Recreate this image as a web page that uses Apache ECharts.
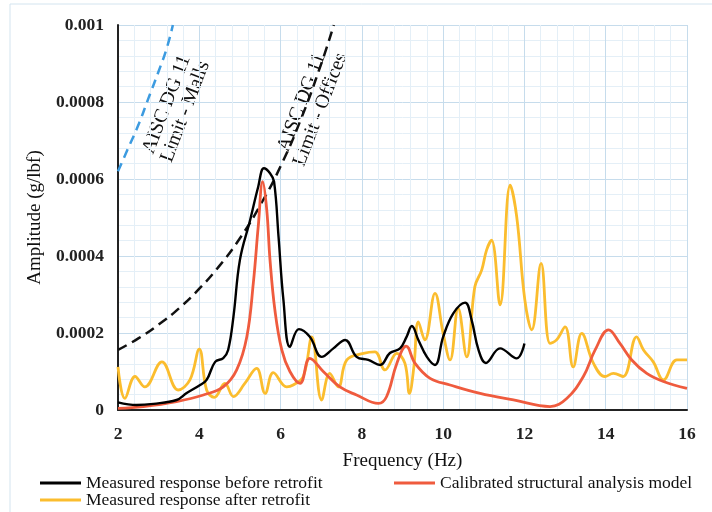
<!DOCTYPE html>
<html>
	<head>
		<meta charset="UTF-8" />
		<title>Frequency response</title>
		<script src="https://cdn.jsdelivr.net/npm/echarts@6/dist/echarts.min.js"></script>
		<style>
			html, body { margin: 0; padding: 0; background: #fff; }
			#pic { width: 712px; height: 512px; }
		</style>
	</head>
	<body>
		<div id="pic"></div>
		<script>
			// values
			var xTicks = [2, 4, 6, 8, 10, 12, 14, 16];
			var yTicks = ['0', '0.0002', '0.0004', '0.0006', '0.0008', '0.001'];

			var freqBefore = [2.0, 2.46, 2.87, 3.44, 3.69, 4.02, 4.18, 4.39, 4.59, 4.71, 4.84, 5.0, 5.25, 5.45, 5.59, 5.74, 5.84, 5.95, 6.07, 6.23, 6.45, 6.72, 7.01, 7.30, 7.59, 7.87, 8.16, 8.45, 8.69, 8.94, 9.10, 9.23, 9.39, 9.60, 9.80, 10.0, 10.25, 10.54, 10.70, 10.87, 11.05, 11.40, 11.81, 12.0];
			var ampBefore = [0.00002, 0.000013, 0.000016, 0.000026, 0.000044, 0.000065, 0.000078, 0.000125, 0.000135, 0.000156, 0.000242, 0.00039, 0.000493, 0.00058, 0.000628, 0.000615, 0.000593, 0.00045, 0.000286, 0.000164, 0.00021, 0.00019, 0.000138, 0.00016, 0.000182, 0.000138, 0.00013, 0.000117, 0.000148, 0.00016, 0.00019, 0.000218, 0.000182, 0.000138, 0.000117, 0.00019, 0.000251, 0.000279, 0.000234, 0.000156, 0.000122, 0.00016, 0.000134, 0.000173];

			var freqModel = [2.0, 2.62, 3.44, 4.10, 4.59, 4.92, 5.17, 5.33, 5.45, 5.56, 5.66, 5.74, 5.86, 6.03, 6.23, 6.48, 6.72, 7.05, 7.46, 7.87, 8.41, 8.61, 8.86, 9.09, 9.31, 9.68, 10.17, 10.91, 11.73, 12.63, 13.04, 13.45, 13.74, 14.07, 14.35, 14.64, 15.01, 15.42, 16.0];
			var ampModel = [0.000004, 0.000009, 0.000022, 0.000039, 0.00006, 0.000104, 0.00019, 0.00033, 0.000476, 0.000593, 0.00052, 0.00039, 0.00026, 0.000156, 0.0001, 0.000069, 0.000134, 0.0001, 0.00006, 0.000039, 0.000017, 0.000035, 0.000121, 0.000166, 0.000121, 0.000082, 0.000065, 0.000043, 0.000026, 0.000009, 0.00003, 0.000087, 0.000156, 0.000208, 0.000173, 0.00013, 0.000095, 0.000074, 0.000056];

			var freqAfter = [2.0, 2.17, 2.42, 2.66, 3.08, 3.48, 3.77, 4.0, 4.18, 4.37, 4.63, 4.84, 5.12, 5.41, 5.62, 5.82, 6.15, 6.31, 6.56, 6.77, 7.01, 7.21, 7.42, 7.63, 8.04, 8.32, 8.57, 8.86, 9.06, 9.17, 9.28, 9.39, 9.55, 9.80, 10.0, 10.17, 10.37, 10.58, 10.78, 10.95, 11.07, 11.19, 11.40, 11.65, 11.81, 12.01, 12.18, 12.41, 12.63, 12.79, 13.0, 13.20, 13.41, 13.70, 13.98, 14.19, 14.43, 14.76, 14.93, 15.17, 15.42, 15.75, 16.0];
			var ampAfter = [0.000112, 0.00003, 0.000087, 0.00006, 0.000125, 0.000052, 0.000078, 0.000158, 0.000052, 0.000033, 0.000069, 0.000035, 0.000069, 0.000108, 0.000043, 0.000097, 0.00006, 0.000065, 0.000087, 0.00019, 0.000026, 0.000095, 0.00006, 0.00013, 0.000147, 0.000151, 0.000104, 0.000147, 0.000121, 0.000043, 0.000112, 0.000229, 0.000182, 0.000303, 0.000199, 0.00013, 0.000264, 0.000138, 0.00032, 0.000364, 0.000416, 0.000441, 0.000273, 0.000584, 0.000502, 0.000286, 0.000208, 0.000381, 0.000173, 0.000182, 0.000216, 0.000112, 0.000199, 0.000121, 0.000087, 0.000095, 0.000087, 0.00019, 0.000156, 0.000125, 0.000078, 0.00013, 0.00013];

			// AISC DG 11 limit lines
			var freqOffices = [2.0, 2.5, 3.0, 3.5, 4.0, 4.5, 5.0, 5.5, 6.0, 6.5, 7.0, 7.31];
			var ampOffices = [0.000156, 0.000186, 0.000222, 0.000264, 0.000315, 0.000375, 0.000446, 0.000532, 0.000633, 0.000755, 0.000899, 0.001];
			var freqMalls = [2.0, 2.25, 2.5, 2.75, 3.0, 3.2, 3.35];
			var ampMalls = [0.00062, 0.00068, 0.00074, 0.00081, 0.00088, 0.00094, 0.001];

			var names = ['Measured response before retrofit', 'Calibrated structural analysis model', 'Measured response after retrofit'];

			function pairs(xs, ys) {
				var out = [];
				for (var i = 0; i < xs.length; i++) out.push([xs[i], ys[i]]);
				return out;
			}

			var serif = 'Liberation Serif';
			var legendText = { fontFamily: serif, fontSize: 17.5, color: '#111' };

			var myChart = echarts.init(document.getElementById('pic'));
			myChart.setOption({
				backgroundColor: '#fff',
				animation: false,
				grid: { left: 118, right: 25, top: 25, bottom: 102 },
				xAxis: {
					type: 'value',
					min: 2, max: 16, interval: 2,
					name: 'Frequency (Hz)',
					nameLocation: 'middle',
					nameGap: 42,
					nameTextStyle: { fontFamily: serif, fontSize: 19, color: '#111' },
					axisLine: { onZero: false, lineStyle: { color: '#222', width: 2 } },
					axisTick: { show: false },
					axisLabel: {
						margin: 15, fontFamily: serif, fontSize: 17.5, fontWeight: 'bold', color: '#222',
						formatter: function (v) { return xTicks.indexOf(v) >= 0 ? String(v) : ''; }
					},
					splitLine: { show: true, lineStyle: { color: '#c6dcec', width: 1 } },
					minorTick: { show: false, splitNumber: 5 },
					minorSplitLine: { show: true, lineStyle: { color: '#e4eff7', width: 1 } }
				},
				yAxis: {
					type: 'value',
					min: 0, max: 0.001, interval: 0.0002,
					name: 'Amplitude (g/lbf)',
					nameLocation: 'middle',
					nameRotate: 90,
					nameGap: 65,
					nameTextStyle: { fontFamily: serif, fontSize: 19, color: '#111' },
					axisLine: { show: true, lineStyle: { color: '#222', width: 2 } },
					axisTick: { show: false },
					axisLabel: {
						margin: 14, fontFamily: serif, fontSize: 17.5, fontWeight: 'bold', color: '#222',
						formatter: function (v) { return yTicks[Math.round(v / 0.0002)]; }
					},
					splitLine: { show: true, lineStyle: { color: '#c6dcec', width: 1 } },
					minorTick: { show: false, splitNumber: 5 },
					minorSplitLine: { show: true, lineStyle: { color: '#e4eff7', width: 1 } }
				},
				legend: [
					{ left: 40, top: 474, padding: 0, icon: 'rect', itemWidth: 41, itemHeight: 3, itemGap: 5, textStyle: legendText, data: [names[0]] },
					{ left: 394, top: 474, padding: 0, icon: 'rect', itemWidth: 41, itemHeight: 3, itemGap: 5, textStyle: legendText, data: [names[1]] },
					{ left: 40, top: 491, padding: 0, icon: 'rect', itemWidth: 41, itemHeight: 3, itemGap: 5, textStyle: legendText, data: [names[2]] }
				],
				graphic: [
					{ type: 'rect', silent: true, shape: { x: 10, y: 4, width: 730, height: 530 }, style: { fill: 'none', stroke: '#d3e4ef', lineWidth: 1 } },
					{
						type: 'text', x: 176, y: 108, rotation: 69 * Math.PI / 180, silent: true,
						style: { text: 'AISC DG 11\nLimit - Malls', fontFamily: serif, fontSize: 20, lineHeight: 20, fill: '#111', align: 'center', verticalAlign: 'middle' }
					},
					{
						type: 'text', x: 311, y: 106, rotation: 69 * Math.PI / 180, silent: true,
						style: { text: 'AISC DG 11\nLimit - Offices', fontFamily: serif, fontSize: 20, lineHeight: 20, fill: '#111', align: 'center', verticalAlign: 'middle' }
					}
				],
				series: [
					{
						name: 'Limit - Malls', type: 'line', data: pairs(freqMalls, ampMalls), smooth: true, symbol: 'none',
						lineStyle: { color: '#3c9be0', width: 2.5, type: [9, 6] }, z: 3
					},
					{
						name: 'Limit - Offices', type: 'line', data: pairs(freqOffices, ampOffices), smooth: true, symbol: 'none',
						lineStyle: { color: '#111', width: 2.5, type: [10, 6] }, z: 3
					},
					{
						name: names[2], type: 'line', data: pairs(freqAfter, ampAfter), smooth: 0.4, symbol: 'none',
						itemStyle: { color: '#fbbd2e' }, lineStyle: { color: '#fbbd2e', width: 2.8 }, z: 4
					},
					{
						name: names[1], type: 'line', data: pairs(freqModel, ampModel), smooth: 0.4, symbol: 'none',
						itemStyle: { color: '#ef5b3e' }, lineStyle: { color: '#ef5b3e', width: 2.8 }, z: 5
					},
					{
						name: names[0], type: 'line', data: pairs(freqBefore, ampBefore), smooth: 0.4, symbol: 'none',
						itemStyle: { color: '#000' }, lineStyle: { color: '#000', width: 2.4 }, z: 6
					}
				]
			});
		</script>
	</body>
</html>
